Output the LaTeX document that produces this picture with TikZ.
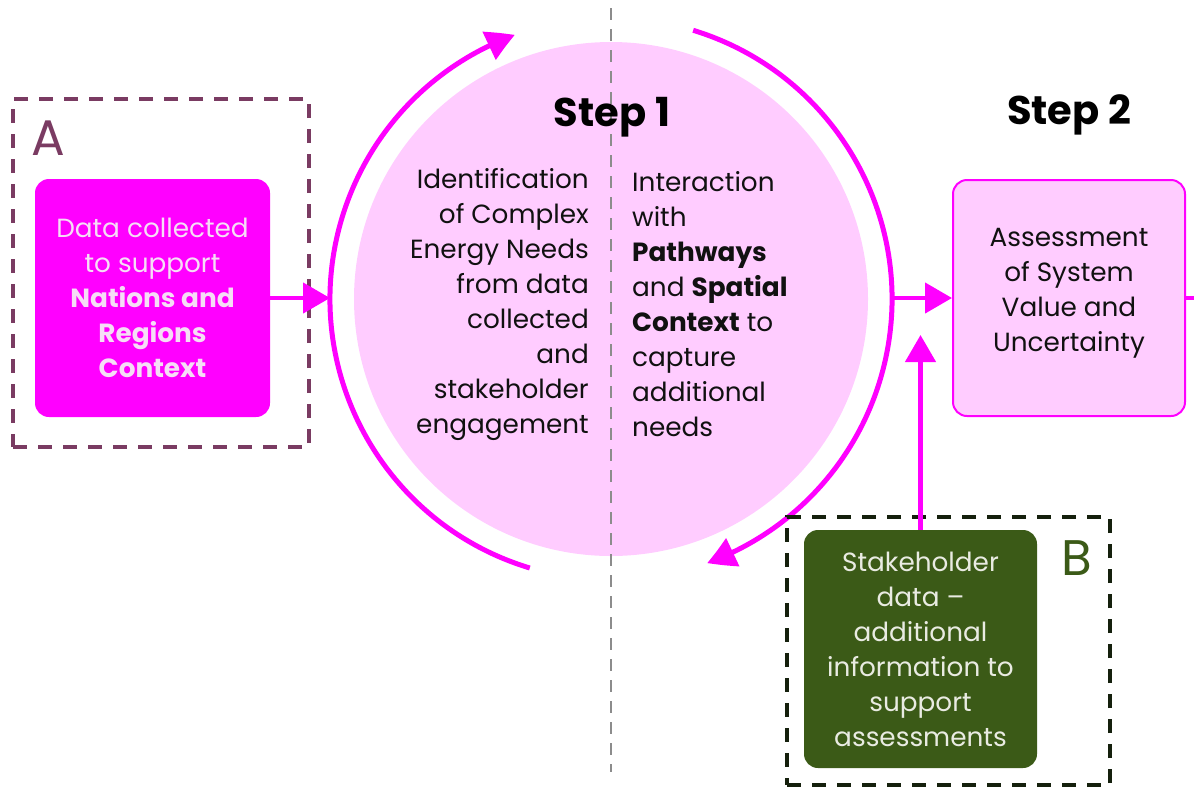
\documentclass[tikz,border=0pt]{standalone}
\usepackage{fontspec}
\setmainfont{Poppins}
\usetikzlibrary{arrows.meta,bending}

\definecolor{mag}{HTML}{FF00FF}
\definecolor{pinkfill}{HTML}{FFCCFF}
\definecolor{palepink}{HTML}{F6DDF6}
\definecolor{plum}{HTML}{7A3B62}
\definecolor{leaf}{HTML}{3B5A17}
\definecolor{nightgreen}{HTML}{15200D}
\definecolor{paletext}{HTML}{E9EBE2}
\definecolor{axisgrey}{HTML}{8C8C8C}
\definecolor{ink}{HTML}{111111}

\tikzset{
  bodytext/.style={font=\fontsize{26.3}{35}\selectfont, inner sep=0pt, text=ink},
  titletext/.style={font=\fontsize{40}{48}\selectfont\bfseries, inner sep=0pt, text=black},
  letter/.style={font=\fontsize{50}{56}\selectfont, inner sep=0pt},
  srcbox/.style={rounded corners=14pt, fill=mag, minimum width=235pt, minimum height=238pt,
    text=palepink, align=center, font=\fontsize{26.3}{35}\selectfont, inner sep=0pt},
  assessbox/.style={rounded corners=14pt, fill=pinkfill, draw=mag, line width=2pt,
    minimum width=232pt, minimum height=236pt, inner sep=0pt},
  stakebox/.style={rounded corners=14pt, fill=leaf, minimum width=233pt, minimum height=238pt,
    text=paletext, align=center, font=\fontsize{26.3}{35}\selectfont, inner sep=0pt},
  framebox/.style={draw, line width=3.5pt, dash pattern=on 14pt off 11pt, inner sep=0pt},
  ring/.style={draw=mag, line width=5pt},
  flow/.style={draw=mag, line width=4.5pt, -{Triangle[length=27pt,width=30pt]}},
  plain/.style={draw=mag, line width=4.5pt},
  axis/.style={draw=axisgrey, line width=2.5pt, dash pattern=on 12pt off 9pt}
}

\begin{document}
\begin{tikzpicture}[x=1pt,y=1pt]
  \useasboundingbox (0,0) rectangle (1194,-788);

  % Step 1 disc and the dividing axis
  \node[circle, fill=pinkfill, minimum size=514pt, inner sep=0pt] (core) at (611,-299) {};
  \coordinate (axisTop) at (611,-8);
  \coordinate (axisBot) at (611,-772);
  \draw[axis] (axisTop) -- (axisBot);

  % circular arrows round the disc
  \draw[ring, -{Triangle[length=28pt,width=30pt,bend]}]
    (core.center) ++(253.2:281pt) arc[start angle=253.2, end angle=110, radius=281pt];
  \draw[ring, -{Triangle[length=28pt,width=30pt,bend]}]
    (core.center) ++(73:281pt) arc[start angle=73, end angle=-70, radius=281pt];

  % titles
  \node[titletext] (step1) at (612,-117) {Step 1};
  \node[titletext] (step2) at (1069,-115) {Step 2};

  % two text columns inside the disc
  \node[bodytext, align=right, anchor=east] (needsL) at (589,-304)
    {Identification\\of Complex\\Energy Needs\\from data\\collected\\and\\stakeholder\\engagement};
  \node[bodytext, align=left, anchor=west] (needsR) at (632,-304)
    {Interaction\\with\\\textbf{Pathways}\\and \textbf{Spatial}\\\textbf{Context} to\\capture\\additional\\needs};

  % A: data source
  \node[framebox, draw=plum, minimum width=296pt, minimum height=348pt] (frameA) at (161,-273) {};
  \node[letter, text=plum] (labelA) at (48,-138) {A};
  \node[srcbox] (dataA) at (152.5,-298)
    {Data collected\\to support\\\textbf{Nations and}\\\textbf{Regions}\\\textbf{Context}};

  % Step 2 box
  \node[assessbox] (assess) at (1069,-298) {};
  \node[bodytext, align=center] (assessText) at (1069,-293)
    {Assessment\\of System\\Value and\\Uncertainty};

  % B: stakeholder data
  \node[framebox, draw=nightgreen, minimum width=323pt, minimum height=268pt] (frameB) at (948.5,-651) {};
  \node[letter, text=leaf] (labelB) at (1077,-558) {B};
  \node[stakebox] (stake) at (920.5,-649)
    {Stakeholder\\data --\\additional\\information to\\support\\assessments};

  % connectors
  \coordinate (ringW) at (330,-298);
  \coordinate (ringE) at (892,-298);
  \coordinate (edgeR) at (1194,-298);
  \coordinate (feedTip) at (920.5,-335);
  \draw[flow] (dataA.east) -- (ringW);
  \draw[flow] (ringE) -- (assess.west);
  \draw[plain] (assess.east) -- (edgeR);
  \draw[flow] (stake.north) -- (feedTip);
\end{tikzpicture}
\end{document}
